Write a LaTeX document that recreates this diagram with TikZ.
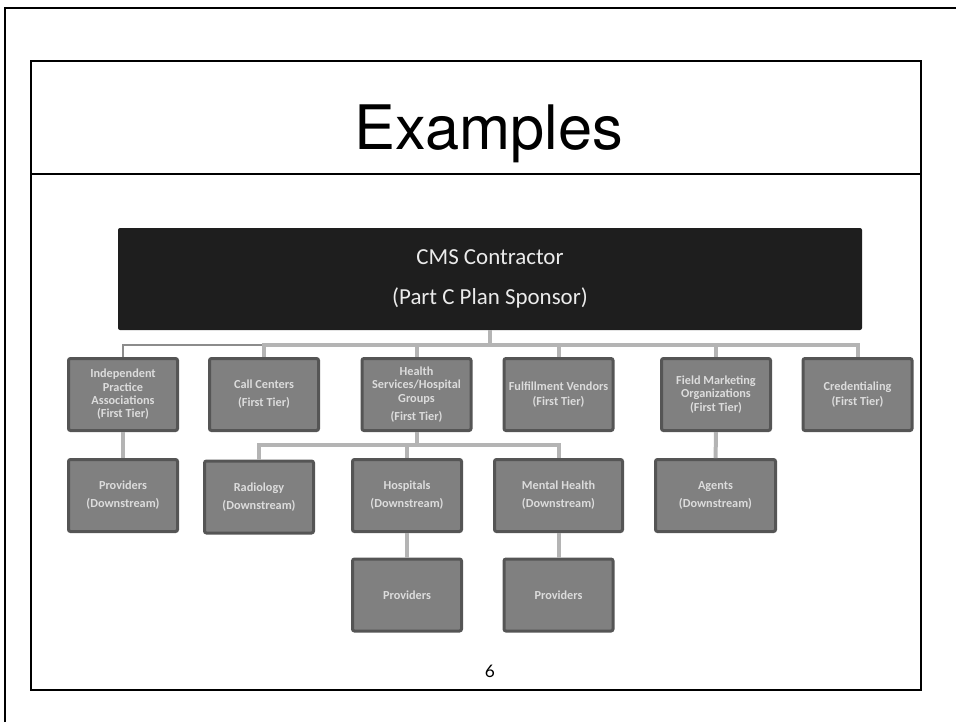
\documentclass[tikz,border=0pt]{standalone}
\usepackage{fontspec}
\newfontfamily\titlefont{TeX Gyre Heros}
\newfontfamily\boxfont{Carlito}
\newfontfamily\pagefont{Lato}

\definecolor{cmsfill}{HTML}{1E1E1E}
\definecolor{boxfill}{HTML}{808080}
\definecolor{boxline}{HTML}{555555}
\definecolor{boxtext}{HTML}{DCDCDC}
\definecolor{linkgray}{HTML}{B4B4B4}
\definecolor{thingray}{HTML}{8C8C8C}

\begin{document}
\begin{tikzpicture}[x=0.75pt,y=-0.75pt,
  frame/.style={black,line width=1.5pt},
  cmsbox/.style={fill=cmsfill,rounded corners=1.5pt,minimum width=558pt,minimum height=76.5pt,inner sep=0pt,align=center,text=white!92!black,font={\boxfont\fontsize{17.2}{30}\selectfont}},
  tierbox/.style={draw=boxline,line width=2.25pt,fill=boxfill,rounded corners=1.5pt,minimum width=81.75pt,minimum height=54pt,inner sep=0pt,align=center,text=boxtext,font={\boxfont\bfseries\fontsize{9.2}{10}\selectfont}},
  link/.style={linkgray,line width=3pt},
  thinlink/.style={thingray,line width=1.2pt}]

\useasboundingbox (0,0) rectangle (956,722);

%draw slide frames
\draw[frame] (5,722)--(5,8)--(956,8);
\draw[frame] (31,61) rectangle (921,690);
\draw[frame] (31,174)--(921,174);
\draw[black,line width=2.2pt] (31,690)--(921,690);

%label slide
\node[anchor=base,font={\titlefont\fontsize{46}{50}\selectfont}] (title) at (489,149) {Examples};
\node[font={\pagefont\fontsize{13}{14}\selectfont}] (page) at (490,671) {6};

%draw contractor
\node[cmsbox] (cms) at (490,279) {CMS Contractor\\(Part C Plan Sponsor)};

%draw first tier
\node[tierbox] (ipa) at (123,394.5) {Independent\\Practice\\Associations\\(First Tier)};
\node[tierbox] (call) at (264,394.5) {Call Centers\\[3.5pt](First Tier)};
\node[tierbox] (hsg) at (416.5,394.5) {Health\\Services/Hospital\\Groups\\[3.5pt](First Tier)};
\node[tierbox] (fulfil) at (558.5,394.5) {Fulfillment Vendors\\[1.5pt](First Tier)};
\node[tierbox] (fmo) at (716,394.5) {Field Marketing\\Organizations\\(First Tier)};
\node[tierbox] (cred) at (857.5,394.5) {Credentialing\\[1.5pt](First Tier)};

%draw downstream
\node[tierbox] (provipa) at (123,495.5) {Providers\\[3.5pt](Downstream)};
\node[tierbox] (radio) at (259,497) {Radiology\\[3.5pt](Downstream)};
\node[tierbox] (hosp) at (407,495.5) {Hospitals\\[3.5pt](Downstream)};
\node[tierbox,minimum width=96pt] (mental) at (558.5,495.5) {Mental Health\\[3.5pt](Downstream)};
\node[tierbox,minimum width=90pt] (agents) at (715.5,495.5) {Agents\\[3.5pt](Downstream)};
\node[tierbox] (provhosp) at (407,595) {Providers};
\node[tierbox] (provment) at (558.5,595) {Providers};

%draw connectors
\coordinate (bus1) at (490,345);
\coordinate (bus2) at (416.5,445);
\draw[thinlink] (call.north |- bus1) -| (ipa.north);
\foreach \n in {call,hsg,fulfil,fmo,cred}
    {
    \draw[link] (cms.south) |- (bus1) -| (\n.north);
    }
\foreach \n in {radio,hosp,mental}
    {
    \draw[link] (hsg.south) |- (bus2) -| (\n.north);
    }
\draw[link] (ipa)--(provipa);
\draw[link] (fmo)--(agents);
\draw[link] (hosp)--(provhosp);
\draw[link] (mental)--(provment);

\end{tikzpicture}
\end{document}
